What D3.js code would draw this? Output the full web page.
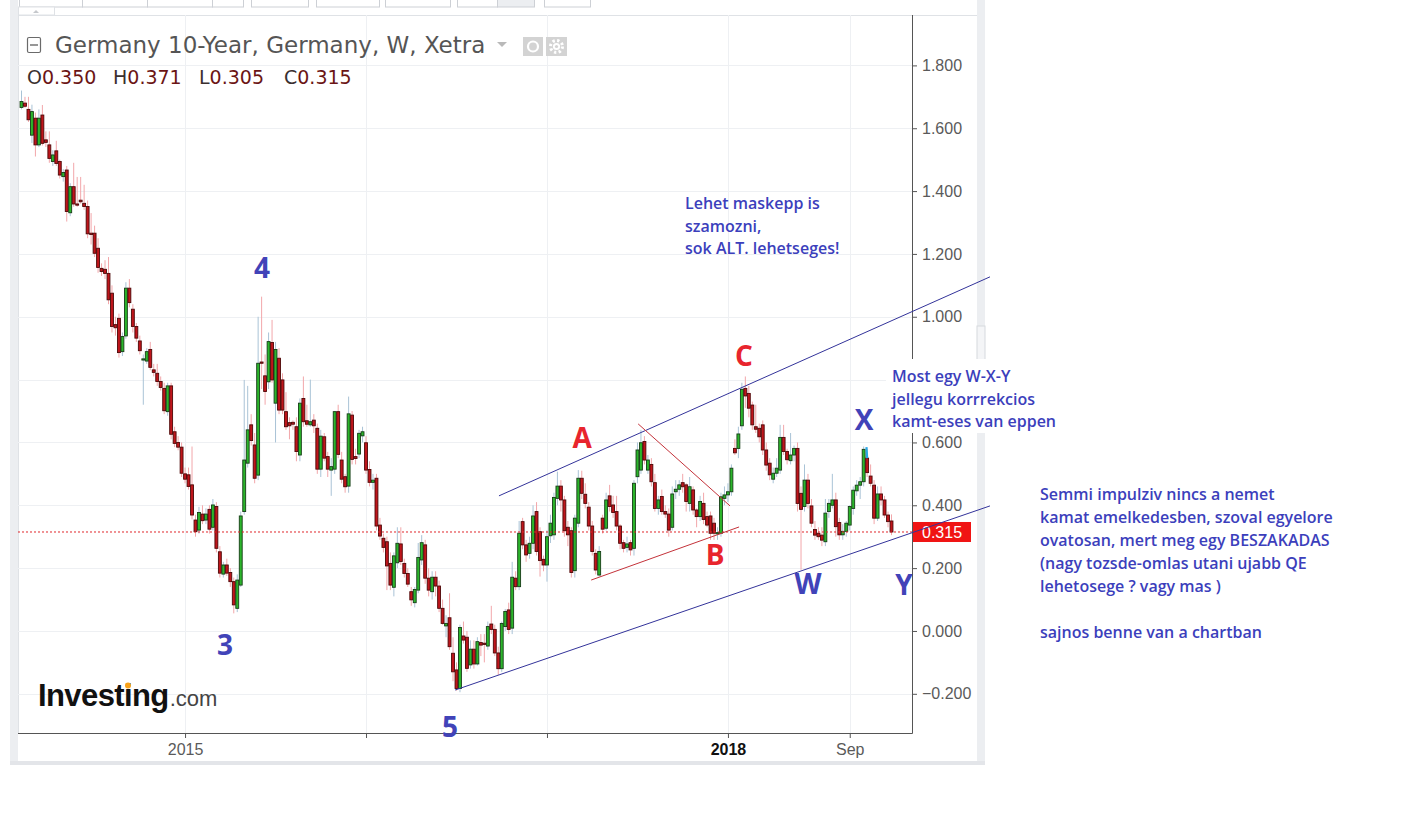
<!DOCTYPE html>
<html>
<head>
<meta charset="utf-8">
<script src="https://cdn.jsdelivr.net/npm/d3@7/dist/d3.min.js"></script>
<style>
  body { margin: 0; background: #fff; }
  svg { display: block; }
</style>
</head>
<body>
<svg id="chart"></svg>
<script>
const width = 1401, height = 828;
const plot = { left: 18, right: 912, top: 15, bottom: 733 };

// Weekly bars, first bar is the week of 10 Feb 2014
const firstWeek = new Date(2014, 1, 10);

// [open, high, low, close] per week
const ohlc = [
  [1.666,1.72,1.66,1.685],[1.68,1.70,1.665,1.67],[1.66,1.70,1.62,1.627],[1.578,1.675,1.553,1.653],[1.632,1.65,1.51,1.547],
  [1.547,1.66,1.54,1.632],[1.642,1.674,1.545,1.552],[1.563,1.59,1.54,1.555],[1.547,1.59,1.49,1.504],[1.494,1.53,1.48,1.515],
  [1.528,1.56,1.48,1.488],[1.494,1.50,1.44,1.451],[1.446,1.47,1.43,1.459],[1.467,1.48,1.303,1.335],[1.331,1.425,1.32,1.414],
  [1.414,1.49,1.35,1.359],[1.359,1.445,1.35,1.357],[1.371,1.445,1.36,1.366],[1.361,1.42,1.34,1.351],[1.351,1.37,1.25,1.264],
  [1.266,1.33,1.23,1.262],[1.266,1.29,1.19,1.202],[1.218,1.25,1.14,1.157],[1.154,1.17,1.13,1.144],[1.151,1.18,1.12,1.138],
  [1.138,1.19,1.04,1.054],[1.075,1.10,0.95,0.969],[0.975,1.00,0.94,0.965],[0.995,1.01,0.87,0.886],[0.889,0.95,0.875,0.937],
  [0.939,1.11,0.93,1.091],[1.091,1.12,1.03,1.045],[1.024,1.04,0.95,0.969],[0.969,0.98,0.92,0.932],[0.923,0.94,0.88,0.892],
  [0.864,0.88,0.72,0.866],[0.859,0.90,0.85,0.889],[0.896,0.92,0.83,0.839],[0.831,0.85,0.81,0.823],[0.820,0.85,0.78,0.794],
  [0.794,0.81,0.765,0.775],[0.772,0.79,0.69,0.701],[0.698,0.79,0.685,0.780],[0.780,0.79,0.61,0.626],[0.634,0.65,0.585,0.597],
  [0.600,0.62,0.575,0.585],[0.585,0.60,0.49,0.502],[0.500,0.52,0.47,0.483],[0.497,0.52,0.45,0.460],[0.465,0.587,0.355,0.369],
  [0.353,0.37,0.30,0.316],[0.321,0.395,0.31,0.377],[0.372,0.40,0.34,0.351],[0.353,0.39,0.34,0.372],[0.387,0.40,0.31,0.324],
  [0.330,0.42,0.32,0.401],[0.396,0.41,0.25,0.263],[0.252,0.27,0.17,0.184],[0.181,0.22,0.17,0.210],[0.210,0.23,0.175,0.184],
  [0.186,0.20,0.14,0.157],[0.157,0.17,0.056,0.083],[0.072,0.18,0.06,0.162],[0.146,0.38,0.14,0.366],[0.380,0.799,0.37,0.544],
  [0.534,0.78,0.52,0.640],[0.656,0.69,0.59,0.606],[0.592,0.63,0.47,0.486],[0.496,1.00,0.48,0.852],[0.856,1.064,0.77,0.852],
  [0.812,0.88,0.72,0.762],[0.793,0.95,0.77,0.921],[0.918,0.99,0.79,0.799],[0.725,0.92,0.60,0.896],[0.868,0.90,0.69,0.703],
  [0.799,0.82,0.69,0.703],[0.698,0.76,0.64,0.650],[0.663,0.68,0.61,0.653],[0.664,0.67,0.64,0.658],[0.650,0.68,0.54,0.571],
  [0.560,0.74,0.54,0.725],[0.740,0.81,0.65,0.666],[0.669,0.72,0.65,0.658],[0.656,0.80,0.65,0.666],[0.671,0.69,0.63,0.653],
  [0.645,0.66,0.50,0.515],[0.515,0.64,0.49,0.620],[0.618,0.63,0.54,0.550],[0.555,0.57,0.49,0.515],[0.512,0.55,0.43,0.523],
  [0.515,0.70,0.50,0.698],[0.698,0.72,0.55,0.562],[0.544,0.57,0.47,0.483],[0.491,0.50,0.44,0.459],[0.461,0.746,0.44,0.691],
  [0.687,0.70,0.53,0.546],[0.555,0.58,0.53,0.549],[0.563,0.64,0.55,0.629],[0.621,0.65,0.60,0.634],[0.599,0.62,0.50,0.512],
  [0.514,0.54,0.46,0.473],[0.473,0.50,0.45,0.480],[0.486,0.50,0.32,0.334],[0.337,0.36,0.29,0.302],[0.295,0.31,0.25,0.266],
  [0.284,0.30,0.13,0.207],[0.215,0.25,0.13,0.146],[0.139,0.25,0.11,0.239],[0.217,0.33,0.20,0.279],[0.277,0.33,0.21,0.221],
  [0.215,0.23,0.17,0.183],[0.183,0.20,0.14,0.149],[0.125,0.14,0.08,0.099],[0.090,0.14,0.075,0.132],[0.130,0.28,0.12,0.234],
  [0.226,0.305,0.21,0.281],[0.274,0.29,0.15,0.168],[0.168,0.20,0.11,0.130],[0.125,0.19,0.10,0.171],[0.171,0.19,0.11,0.143],
  [0.143,0.16,0.06,0.072],[0.072,0.10,0.02,0.024],[0.016,0.05,-0.02,0.024],[0.042,0.12,-0.06,-0.050],[-0.071,-0.02,-0.16,-0.130],
  [-0.124,-0.10,-0.19,-0.183],[-0.183,0.02,-0.195,0.011],[-0.016,0.03,-0.04,-0.029],[-0.020,0.0,-0.13,-0.119],[-0.108,-0.03,-0.12,-0.058],
  [-0.058,-0.03,-0.12,-0.105],[-0.105,-0.02,-0.11,-0.034],[-0.037,-0.01,-0.08,-0.045],[-0.039,-0.01,-0.10,-0.040],[-0.048,0.03,-0.06,0.014],
  [0.022,0.08,-0.01,0.005],[0.005,0.02,-0.08,-0.07],[-0.07,-0.05,-0.14,-0.12],[-0.12,0.03,-0.13,0.024],[0.014,0.07,0.0,0.062],
  [0.067,0.09,-0.01,0.005],[0.009,0.22,-0.01,0.171],[0.168,0.19,0.13,0.141],[0.141,0.35,0.13,0.311],[0.348,0.36,0.26,0.274],
  [0.274,0.29,0.22,0.242],[0.247,0.30,0.23,0.279],[0.279,0.40,0.26,0.366],[0.380,0.41,0.24,0.253],[0.316,0.33,0.173,0.224],
  [0.228,0.24,0.19,0.210],[0.210,0.32,0.157,0.300],[0.303,0.37,0.28,0.343],[0.306,0.44,0.29,0.425],[0.422,0.507,0.40,0.461],
  [0.461,0.48,0.38,0.417],[0.417,0.43,0.30,0.319],[0.330,0.35,0.27,0.306],[0.319,0.33,0.17,0.186],[0.192,0.37,0.17,0.359],
  [0.343,0.512,0.33,0.486],[0.486,0.51,0.42,0.438],[0.435,0.47,0.39,0.406],[0.394,0.41,0.32,0.334],[0.334,0.35,0.24,0.253],
  [0.247,0.26,0.18,0.194],[0.178,0.27,0.173,0.253],[0.359,0.37,0.31,0.324],[0.327,0.44,0.32,0.417],[0.430,0.465,0.38,0.396],
  [0.401,0.43,0.36,0.377],[0.380,0.43,0.32,0.334],[0.334,0.34,0.26,0.279],[0.281,0.29,0.25,0.263],[0.266,0.30,0.25,0.277],
  [0.281,0.29,0.24,0.258],[0.263,0.48,0.24,0.470],[0.491,0.60,0.47,0.576],[0.512,0.64,0.50,0.599],[0.603,0.62,0.53,0.544],
  [0.512,0.56,0.50,0.544],[0.530,0.55,0.46,0.475],[0.472,0.50,0.38,0.390],[0.390,0.43,0.37,0.417],[0.428,0.45,0.37,0.380],
  [0.380,0.40,0.36,0.372],[0.372,0.39,0.30,0.321],[0.330,0.46,0.32,0.436],[0.443,0.48,0.42,0.451],[0.451,0.48,0.43,0.465],
  [0.472,0.50,0.44,0.459],[0.465,0.47,0.38,0.412],[0.406,0.49,0.38,0.459],[0.449,0.46,0.37,0.385],[0.385,0.39,0.33,0.364],
  [0.364,0.43,0.35,0.412],[0.406,0.44,0.34,0.355],[0.364,0.38,0.33,0.337],[0.366,0.38,0.29,0.311],[0.343,0.36,0.29,0.311],
  [0.309,0.33,0.29,0.313],[0.311,0.44,0.30,0.427],[0.422,0.46,0.40,0.433],[0.433,0.47,0.41,0.443],[0.443,0.53,0.43,0.518],
  [0.581,0.61,0.56,0.567],[0.581,0.65,0.55,0.627],[0.653,0.79,0.64,0.769],[0.772,0.81,0.71,0.748],[0.756,0.78,0.68,0.709],
  [0.719,0.73,0.64,0.656],[0.650,0.72,0.63,0.642],[0.645,0.66,0.60,0.618],[0.656,0.67,0.56,0.576],[0.576,0.60,0.51,0.528],
  [0.534,0.55,0.48,0.497],[0.483,0.52,0.47,0.502],[0.502,0.55,0.49,0.518],[0.512,0.656,0.50,0.616],[0.616,0.656,0.56,0.571],
  [0.571,0.58,0.53,0.545],[0.542,0.63,0.53,0.560],[0.560,0.59,0.54,0.581],[0.581,0.60,0.38,0.406],[0.438,0.46,0.195,0.387],
  [0.396,0.53,0.38,0.480],[0.480,0.50,0.39,0.406],[0.398,0.42,0.33,0.343],[0.323,0.35,0.29,0.305],[0.311,0.33,0.29,0.300],
  [0.305,0.33,0.27,0.289],[0.284,0.42,0.27,0.375],[0.380,0.42,0.36,0.406],[0.400,0.50,0.39,0.417],[0.417,0.44,0.30,0.332],
  [0.345,0.36,0.29,0.306],[0.306,0.34,0.29,0.317],[0.317,0.35,0.30,0.343],[0.337,0.40,0.32,0.396],[0.390,0.46,0.37,0.448],
  [0.446,0.48,0.43,0.464],[0.464,0.49,0.42,0.475],[0.475,0.587,0.46,0.578],[0.550,0.58,0.49,0.504],[0.493,0.53,0.46,0.470],
  [0.464,0.48,0.34,0.359],[0.359,0.46,0.35,0.436],[0.436,0.46,0.40,0.417],[0.417,0.43,0.36,0.369],[0.369,0.38,0.33,0.348],
  [0.350,0.371,0.305,0.315]
];

const yTicks = [-0.2, 0, 0.2, 0.4, 0.6, 0.8, 1.0, 1.2, 1.4, 1.6, 1.8];
const yTicksHidden = [0.8]; // covered by the note box in the picture
const xTickDates = ["2015-01-05", "2016-01-04", "2017-01-02", "2018-01-01", "2018-09-03"];
const xTickLabels = ["2015", "", "", "2018", "Sep"];

// wave labels: [text, week index, value]
const blueWaves = [["4", 69.1, 1.155], ["3", 58.5, -0.045], ["5", 123.1, -0.306],
                   ["X", 242.1, 0.672], ["W", 226.0, 0.150], ["Y", 253.6, 0.146]];
const redWaves = [["A", 161.1, 0.614], ["B", 199.3, 0.242], ["C", 207.6, 0.875]];

// hand-drawn trend lines: [week1, value1, week2, value2]
const blueLines = [[137.2, 0.430, 278.3, 1.127], [124.6, -0.188, 278.3, 0.398]];
const redLines = [[177.2, 0.659, 203.6, 0.398], [163.7, 0.162, 206.2, 0.331]];

const noteTopLines = ["Lehet maskepp is", "szamozni,", "sok ALT. lehetseges!"];
const noteMidLines = ["Most egy W-X-Y", "jellegu korrrekcios", "kamt-eses van eppen"];
const noteRightLines = ["Semmi impulziv nincs a nemet", "kamat emelkedesben, szoval egyelore",
  "ovatosan, mert meg egy BESZAKADAS", "(nagy tozsde-omlas utani ujabb QE", "lehetosege ? vagy mas )"];
const noteLastLine = "sajnos benne van a chartban";

const lastBar = ohlc[ohlc.length - 1];
const parseDate = d3.timeParse("%Y-%m-%d");
const weekDate = w => new Date(+firstWeek + w * 7 * 864e5);

const bars = ohlc.map((d, i) => ({ date: d3.timeDay.offset(firstWeek, 7 * i), o: d[0], h: d[1], l: d[2], c: d[3] }));

// Scales
const x = d3.scaleTime()
    .domain([firstWeek, bars[bars.length - 1].date])
    .range([21.5, 21.5 + (bars.length - 1) * 3.48]);
const y = d3.scaleLinear().domain([-0.2, 1.8]).range([693.8, 65.4]);

const svg = d3.select("#chart")
    .attr("width", width)
    .attr("height", height)
    .attr("viewBox", [0, 0, width, height]);

// Panel chrome
svg.append("rect").attr("width", width).attr("height", height).attr("fill", "#fff");
svg.append("rect").attr("x", 10).attr("y", 0).attr("width", 8).attr("height", 765).attr("fill", "#eceef1");
svg.append("rect").attr("x", 977).attr("y", 0).attr("width", 8).attr("height", 765).attr("fill", "#eceef1");
svg.append("rect").attr("x", 10).attr("y", 761).attr("width", 975).attr("height", 4).attr("fill", "#e3e5e9");
svg.append("rect").attr("x", 977).attr("y", 326).attr("width", 8).attr("height", 36)
    .attr("fill", "#f4f5f7").attr("stroke", "#d6d9de");

// toolbar stubs at the very top
const toolbar = [[19, 82], [82, 147], [147, 212], [212, 243], [251, 308], [316, 379], [385, 450], [457, 497], [497, 534], [544, 590]];
svg.append("g").selectAll("rect").data(toolbar).join("rect")
    .attr("x", d => d[0] + 0.5).attr("y", -1)
    .attr("width", d => d[1] - d[0]).attr("height", 8)
    .attr("fill", (d, i) => i === 8 ? "#eceef1" : "#fff")
    .attr("stroke", "#cdd0d5");
svg.append("rect").attr("x", 18.5).attr("y", 7).attr("width", 36).attr("height", 8)
    .attr("fill", "#fff").attr("stroke", "#dfe2e6");
svg.append("path").attr("d", "M33,13 L36,10 L39,13 Z").attr("fill", "#c5c8cc");

// plot borders
svg.append("line").attr("x1", plot.left).attr("x2", 977).attr("y1", plot.top + 0.5).attr("y2", plot.top + 0.5)
    .attr("stroke", "#dfe2e6");
svg.append("line").attr("x1", plot.left + 0.5).attr("x2", plot.left + 0.5).attr("y1", plot.top).attr("y2", plot.bottom)
    .attr("stroke", "#dfe2e6");

// Gridlines
const grid = svg.append("g").attr("class", "grid");
grid.selectAll("line.h").data(yTicks).join("line").attr("class", "h")
    .attr("x1", plot.left).attr("x2", plot.right)
    .attr("y1", d => Math.round(y(d)) + 0.5).attr("y2", d => Math.round(y(d)) + 0.5)
    .attr("stroke", "#eef0f3");
grid.selectAll("line.v").data(xTickDates).join("line").attr("class", "v")
    .attr("x1", d => Math.round(x(parseDate(d))) + 0.5).attr("x2", d => Math.round(x(parseDate(d))) + 0.5)
    .attr("y1", plot.top).attr("y2", plot.bottom)
    .attr("stroke", "#eef0f3");

// Clip for candles
svg.append("defs").append("clipPath").attr("id", "clip")
    .append("rect").attr("x", plot.left + 1).attr("y", plot.top + 1)
    .attr("width", plot.right - plot.left - 1).attr("height", plot.bottom - plot.top - 1);

// Investing logo (behind candles)
const logo = svg.append("g");
const logoText = logo.append("text")
    .attr("x", 38).attr("y", 706)
    .attr("font-family", "'Liberation Sans', Arial, sans-serif")
    .attr("font-weight", "bold")
    .attr("font-size", 31)
    .attr("letter-spacing", -0.6)
    .attr("fill", "#111")
    .text("Investing");
const logoEnd = logoText.node().getComputedTextLength() + 38;
logo.append("text")
    .attr("x", logoEnd + 1).attr("y", 706)
    .attr("font-family", "'Liberation Sans', Arial, sans-serif")
    .attr("font-size", 22)
    .attr("fill", "#444")
    .text(".com");
const iBox = logoText.node().getExtentOfChar(6);
logo.append("circle")
    .attr("cx", iBox.x + iBox.width / 2).attr("cy", 685.5).attr("r", 3)
    .attr("fill", "#f7a21b");

// Candles
const candleG = svg.append("g").attr("clip-path", "url(#clip)");
const candle = candleG.selectAll("g.candle").data(bars).join("g").attr("class", "candle");
candle.append("line")
    .attr("x1", d => x(d.date)).attr("x2", d => x(d.date))
    .attr("y1", d => y(d.h)).attr("y2", d => y(d.l))
    .attr("stroke", d => d.c >= d.o ? "#a9c3d6" : "#f2a7aa")
    .attr("stroke-width", 1);
candle.append("rect")
    .attr("x", d => x(d.date) - 1.45)
    .attr("width", 2.9)
    .attr("y", d => y(Math.max(d.o, d.c)))
    .attr("height", d => Math.max(1.2, Math.abs(y(d.o) - y(d.c))))
    .attr("fill", d => d.c >= d.o ? "#2bb52b" : "#bf151b")
    .attr("stroke", d => d.c >= d.o ? "#173d17" : "#4d0808")
    .attr("stroke-width", 0.9);

// Last price dotted line
svg.append("line")
    .attr("x1", plot.left).attr("x2", plot.right)
    .attr("y1", y(lastBar[3])).attr("y2", y(lastBar[3]))
    .attr("stroke", "#e0262b").attr("stroke-width", 1)
    .attr("stroke-dasharray", "2,2");

// Axes
const yAxis = svg.append("g")
    .attr("transform", `translate(${plot.right},0)`)
    .call(d3.axisRight(y).tickValues(yTicks.filter(t => !yTicksHidden.includes(t)))
        .tickFormat(d3.format(".3f")).tickSize(5).tickPadding(5));
yAxis.select(".domain").remove();
yAxis.selectAll("line").attr("stroke", "#555");
yAxis.selectAll("text")
    .attr("font-family", "'Liberation Sans', Arial, sans-serif")
    .attr("font-size", 16).attr("fill", "#5a5a5a");

const xAxis = svg.append("g")
    .attr("transform", `translate(0,${plot.bottom})`)
    .call(d3.axisBottom(x).tickValues(xTickDates.map(parseDate))
        .tickFormat((d, i) => xTickLabels[i]).tickSize(5).tickPadding(6));
xAxis.select(".domain").remove();
xAxis.selectAll("line").attr("stroke", "#555");
xAxis.selectAll("text")
    .attr("font-family", "'Liberation Sans', Arial, sans-serif")
    .attr("font-size", 16)
    .attr("fill", (d, i) => xTickLabels[i] === "2018" ? "#111" : "#5a5a5a")
    .attr("font-weight", (d, i) => xTickLabels[i] === "2018" ? "bold" : "normal");

svg.append("line").attr("x1", plot.right + 0.5).attr("x2", plot.right + 0.5)
    .attr("y1", plot.top).attr("y2", plot.bottom + 0.5).attr("stroke", "#555");
svg.append("line").attr("x1", plot.left).attr("x2", plot.right + 0.5)
    .attr("y1", plot.bottom + 0.5).attr("y2", plot.bottom + 0.5).attr("stroke", "#555");

// Last price label on the axis
const lastY = y(lastBar[3]);
svg.append("rect").attr("x", plot.right + 1).attr("y", lastY - 10).attr("width", 58).attr("height", 20)
    .attr("fill", "#f01414");
svg.append("text").attr("x", plot.right + 10).attr("y", lastY + 6)
    .attr("font-family", "'Liberation Sans', Arial, sans-serif")
    .attr("font-size", 16).attr("fill", "#fff")
    .text(d3.format(".3f")(lastBar[3]));

// Hand-drawn lines
const drawLine = (g, data, color) => g.selectAll("line").data(data).join("line")
    .attr("x1", d => x(weekDate(d[0]))).attr("y1", d => y(d[1]))
    .attr("x2", d => x(weekDate(d[2]))).attr("y2", d => y(d[3]))
    .attr("stroke", color).attr("stroke-width", 1);
drawLine(svg.append("g"), blueLines, "#33339a");
drawLine(svg.append("g"), redLines, "#c4323a");

// small cyan marker at the X top
svg.append("line")
    .attr("x1", x(weekDate(242.8))).attr("x2", x(weekDate(243.0)))
    .attr("y1", y(0.585)).attr("y2", y(0.55))
    .attr("stroke", "#2aa7e6").attr("stroke-width", 2.2);

// Wave labels
const waveFont = "'Open Sans', 'DejaVu Sans', sans-serif";
const drawWaves = (data, color) => svg.append("g").selectAll("text").data(data).join("text")
    .attr("x", d => x(weekDate(d[1]))).attr("y", d => y(d[2]))
    .attr("text-anchor", "middle").attr("dy", "0.36em")
    .attr("font-family", waveFont).attr("font-weight", 700).attr("font-size", 28)
    .attr("fill", color)
    .text(d => d[0]);
drawWaves(blueWaves, "#4143b8");
drawWaves(redWaves, "#e8252d");

// Header: title and OHLC
const header = svg.append("g");
header.append("rect").attr("x", 27.5).attr("y", 37.5).attr("width", 13).attr("height", 15)
    .attr("rx", 1.5).attr("fill", "#fff").attr("stroke", "#6a6a6a").attr("stroke-width", 1.2);
header.append("line").attr("x1", 30).attr("x2", 38).attr("y1", 45).attr("y2", 45)
    .attr("stroke", "#6a6a6a").attr("stroke-width", 1.4);
header.append("text").attr("x", 55).attr("y", 53)
    .attr("font-family", "'DejaVu Sans', Verdana, sans-serif")
    .attr("font-size", 23).attr("fill", "#555")
    .text("Germany 10-Year, Germany, W, Xetra");
header.append("path").attr("d", "M497,42 L507,42 L502,47 Z").attr("fill", "#b9b9b9");
header.append("rect").attr("x", 523).attr("y", 37).attr("width", 20).attr("height", 19).attr("fill", "#d3d3d3");
header.append("circle").attr("cx", 533).attr("cy", 46.5).attr("r", 5).attr("fill", "none")
    .attr("stroke", "#fff").attr("stroke-width", 2.2);
header.append("rect").attr("x", 546).attr("y", 37).attr("width", 21).attr("height", 19).attr("fill", "#d3d3d3");
header.append("circle").attr("cx", 556.5).attr("cy", 46.5).attr("r", 6).attr("fill", "none")
    .attr("stroke", "#fff").attr("stroke-width", 3).attr("stroke-dasharray", "2.3,2.4");
header.append("circle").attr("cx", 556.5).attr("cy", 46.5).attr("r", 3.6).attr("fill", "#fff");
header.append("circle").attr("cx", 556.5).attr("cy", 46.5).attr("r", 1.6).attr("fill", "#d3d3d3");

const ohlcLabels = ["O", "H", "L", "C"];
const ohlcX = [27, 113, 199, 284];
const ohlcText = header.selectAll("text.ohlc").data(ohlcLabels).join("text").attr("class", "ohlc")
    .attr("x", (d, i) => ohlcX[i]).attr("y", 84)
    .attr("font-family", "'DejaVu Sans', Verdana, sans-serif")
    .attr("font-size", 19);
ohlcText.append("tspan").attr("fill", "#3a3030").text(d => d);
ohlcText.append("tspan").attr("fill", "#6b1515").text((d, i) => d3.format(".3f")(lastBar[i]));

// Notes
const noteFont = "'Open Sans', 'DejaVu Sans', sans-serif";
const drawNote = (lines, x0, y0, step) => svg.append("g").selectAll("text").data(lines).join("text")
    .attr("x", x0).attr("y", (d, i) => y0 + i * step)
    .attr("font-family", noteFont).attr("font-weight", 600).attr("font-size", 16)
    .attr("fill", "#3c3fbc")
    .text(d => d);
drawNote(noteTopLines, 685, 209, 22.5);
svg.append("rect").attr("x", 886).attr("y", 359).attr("width", 182).attr("height", 74).attr("fill", "#fff");
drawNote(noteMidLines, 892, 382, 22.5);
drawNote(noteRightLines, 1040, 500, 23);
drawNote([noteLastLine], 1040, 638, 0);
</script>
</body>
</html>
